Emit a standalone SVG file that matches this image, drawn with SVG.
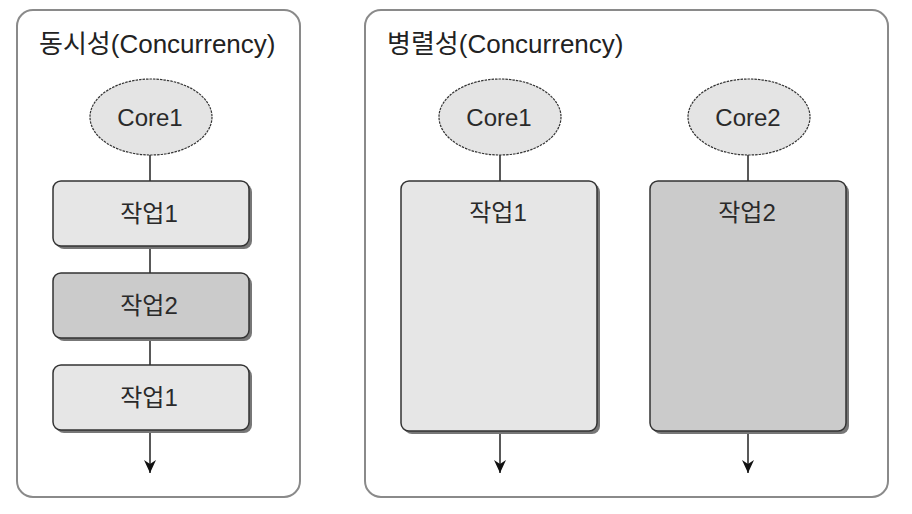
<svg xmlns="http://www.w3.org/2000/svg" width="912" height="514" viewBox="0 0 912 514">
<defs>
<marker id="arr" viewBox="0 0 13 12" refX="13" refY="6" markerWidth="13" markerHeight="12" markerUnits="userSpaceOnUse" orient="auto">
<path d="M0,0 L13,6 L0,12 L4,6 Z" fill="#111"/>
</marker>
<style>
.panel{fill:#fff;stroke:#8a8a8a;stroke-width:2}
.title{font-family:"Liberation Sans","Noto Sans CJK KR",sans-serif;font-size:26px;fill:#222}
.lbl{font-family:"Liberation Sans","Noto Sans CJK KR",sans-serif;font-size:24px;fill:#2a2a2a;text-anchor:middle;dominant-baseline:central}
.core{fill:#e4e4e4;stroke:#333;stroke-width:1.2;stroke-dasharray:2.5 1}
.shadow{fill:#777}
.light{fill:#e6e6e6;stroke:#333;stroke-width:1.5}
.dark{fill:#cbcbcb;stroke:#333;stroke-width:1.5}
.conn{stroke:#222;stroke-width:1.5;fill:none}
</style>
</defs>
<g id="panel-concurrency">
<rect class="panel" x="17" y="10" width="283" height="487" rx="16"/>
<text class="title" x="39" y="53">동시성(Concurrency)</text>
</g>
<g id="panel-parallelism">
<rect class="panel" x="365" y="10" width="523" height="487" rx="16"/>
<text class="title" x="387" y="53">병렬성(Concurrency)</text>
</g>
<g id="connectors">
<line class="conn" x1="150" y1="155" x2="150" y2="181"/>
<line class="conn" x1="150" y1="246" x2="150" y2="273"/>
<line class="conn" x1="150" y1="338" x2="150" y2="365"/>
<line class="conn" x1="150" y1="431" x2="150" y2="473" marker-end="url(#arr)"/>
<line class="conn" x1="500" y1="155" x2="500" y2="181"/>
<line class="conn" x1="500" y1="431" x2="500" y2="473" marker-end="url(#arr)"/>
<line class="conn" x1="748" y1="155" x2="748" y2="181"/>
<line class="conn" x1="748" y1="431" x2="748" y2="473" marker-end="url(#arr)"/>
</g>
<g id="core1-left">
<ellipse class="core" cx="151" cy="117" rx="61" ry="38"/>
<text class="lbl" x="150" y="117">Core1</text>
</g>
<g id="task1-left-a">
<rect class="shadow" x="56" y="184" width="196" height="65" rx="8"/>
<rect class="light" x="53" y="181" width="196" height="65" rx="8"/>
<text class="lbl" x="149" y="213">작업1</text>
</g>
<g id="task2-left">
<rect class="shadow" x="56" y="276" width="196" height="65" rx="8"/>
<rect class="dark" x="53" y="273" width="196" height="65" rx="8"/>
<text class="lbl" x="149" y="305">작업2</text>
</g>
<g id="task1-left-b">
<rect class="shadow" x="56" y="368" width="196" height="65" rx="8"/>
<rect class="light" x="53" y="365" width="196" height="65" rx="8"/>
<text class="lbl" x="149" y="397">작업1</text>
</g>
<g id="core1-right">
<ellipse class="core" cx="500" cy="117" rx="61" ry="38"/>
<text class="lbl" x="499" y="117">Core1</text>
</g>
<g id="core2-right">
<ellipse class="core" cx="749" cy="117" rx="61" ry="38"/>
<text class="lbl" x="748" y="117">Core2</text>
</g>
<g id="task1-right">
<rect class="shadow" x="404" y="184" width="196" height="250" rx="8"/>
<rect class="light" x="401" y="181" width="196" height="250" rx="8"/>
<text class="lbl" x="498" y="212">작업1</text>
</g>
<g id="task2-right">
<rect class="shadow" x="653" y="184" width="196" height="250" rx="8"/>
<rect class="dark" x="650" y="181" width="196" height="250" rx="8"/>
<text class="lbl" x="747" y="212">작업2</text>
</g>
</svg>
